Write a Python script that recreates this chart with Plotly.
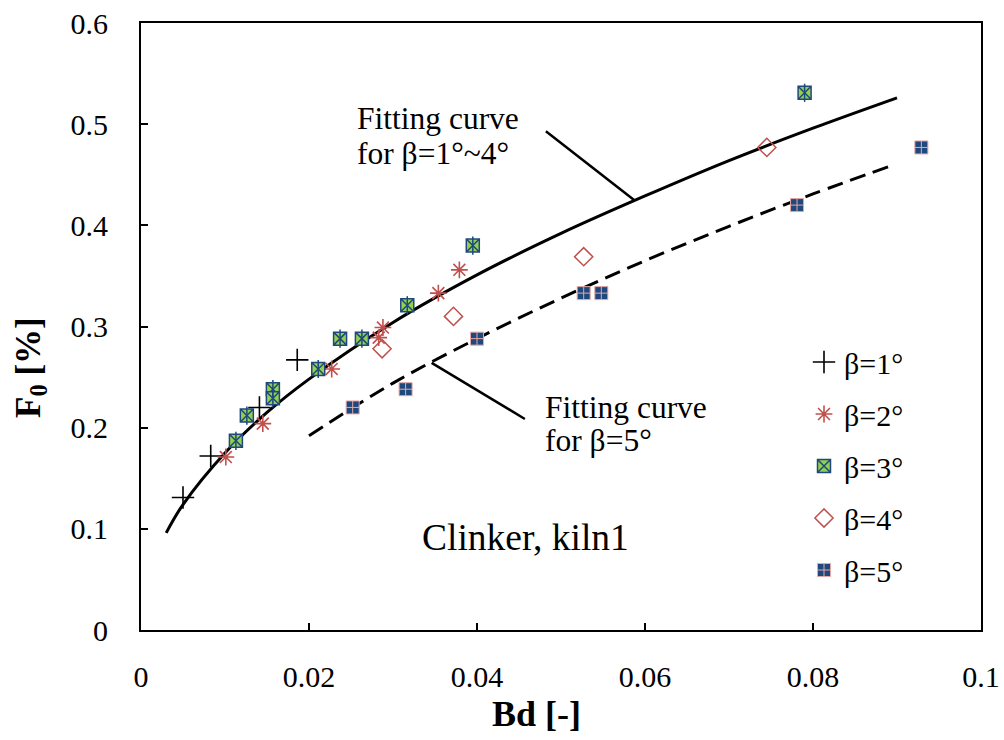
import plotly.graph_objects as go

# ---- data ----
b1_x = [0.0050, 0.0083, 0.0141, 0.0186]
b1_y = [0.131, 0.172, 0.220, 0.267]

b2_x = [0.0101, 0.0145, 0.0227, 0.0283, 0.0288, 0.0354, 0.0379]
b2_y = [0.171, 0.204, 0.258, 0.289, 0.299, 0.333, 0.356]

b3_x = [0.0113, 0.0126, 0.0157, 0.0157, 0.0211, 0.0237, 0.0263, 0.0317, 0.0395, 0.0790]
b3_y = [0.187, 0.212, 0.238, 0.229, 0.258, 0.288, 0.288, 0.321, 0.380, 0.531]

b4_x = [0.0287, 0.0372, 0.0527, 0.0745]
b4_y = [0.278, 0.310, 0.369, 0.477]

b5_x = [0.0252, 0.0315, 0.0400, 0.0527, 0.0548, 0.0781, 0.0929]
b5_y = [0.220, 0.238, 0.288, 0.333, 0.333, 0.420, 0.477]

fit14_x = [0.003, 0.005, 0.010, 0.015, 0.020, 0.030, 0.040, 0.050, 0.060, 0.070, 0.080, 0.090]
fit14_y = [0.096, 0.124, 0.175, 0.215, 0.248, 0.304, 0.351, 0.392, 0.429, 0.464, 0.496, 0.526]

fit5_x = [0.020, 0.030, 0.040, 0.050, 0.060, 0.070, 0.080, 0.089]
fit5_y = [0.192, 0.244, 0.288, 0.328, 0.365, 0.399, 0.431, 0.458]

# pointer lines for the curve labels (data coords)
ptr14 = [0.0482, 0.493, 0.0587, 0.425]
ptr5 = [0.0346, 0.264, 0.0457, 0.2086]

x_ticks = [0, 0.02, 0.04, 0.06, 0.08, 0.1]
x_tick_text = ["0", "0.02", "0.04", "0.06", "0.08", "0.1"]
y_ticks = [0, 0.1, 0.2, 0.3, 0.4, 0.5, 0.6]
y_tick_text = ["0", "0.1", "0.2", "0.3", "0.4", "0.5", "0.6"]

FONT = "Liberation Serif"
RED = "#C0504D"
GREEN = "#92D050"
BLUE = "#1F497D"
PINK = "#E6A8A6"

fig = go.Figure()

fig.add_trace(go.Scatter(x=fit14_x, y=fit14_y, mode="lines", line=dict(color="black", width=3, shape="spline"),
                         showlegend=False, hoverinfo="skip"))
fig.add_trace(go.Scatter(x=fit5_x, y=fit5_y, mode="lines",
                         line=dict(color="black", width=3, shape="spline", dash="16px,8px"),
                         showlegend=False, hoverinfo="skip"))

fig.add_trace(go.Scatter(x=b1_x, y=b1_y, mode="markers", name="β=1°", legendgroup="g1",
                         marker=dict(symbol="cross-thin-open", size=16, color="black",
                                     line=dict(color="black", width=1.6))))
fig.add_trace(go.Scatter(x=b2_x, y=b2_y, mode="markers", name="β=2°", legendgroup="g2",
                         marker=dict(symbol="asterisk-open", size=14, color=RED,
                                     line=dict(color=RED, width=1.6))))
fig.add_trace(go.Scatter(x=b3_x, y=b3_y, mode="markers", name="β=3°", legendgroup="g3",
                         marker=dict(symbol="square-x", size=13, color=GREEN, line=dict(color=BLUE, width=1.5))))
fig.add_trace(go.Scatter(x=b3_x, y=b3_y, mode="markers", name="β=3°", legendgroup="g3", showlegend=False,
                         hoverinfo="skip",
                         marker=dict(symbol="line-ns-open", size=13, color=BLUE, line=dict(color=BLUE, width=1.5))))
fig.add_trace(go.Scatter(x=b4_x, y=b4_y, mode="markers", name="β=4°", legendgroup="g4",
                         marker=dict(symbol="diamond-open", size=14, color=RED, line=dict(color=RED, width=1.5))))
fig.add_trace(go.Scatter(x=b5_x, y=b5_y, mode="markers", name="β=5°", legendgroup="g5",
                         marker=dict(symbol="square-cross", size=13, color=BLUE, line=dict(color=PINK, width=1))))

for p in (ptr14, ptr5):
    fig.add_shape(type="line", xref="x", yref="y", x0=p[0], y0=p[1], x1=p[2], y1=p[3],
                  line=dict(color="black", width=2.5))

# figure fills the window exactly (body margin removed in post_script)
W, H = 1004, 740
L, T, R, B = 141, 23, 1004 - 981, 740 - 630
pw, ph = W - L - R, H - T - B


def px(xs):
    return (xs - L) / pw


def py(ys):
    return (H - B - ys) / ph


ann = [
    dict(text="Fitting curve", x=355, y=118, size=31.5),
    dict(text="for β=1°~4°", x=355, y=153, size=31.5),
    dict(text="Fitting curve", x=543, y=407, size=31.5),
    dict(text="for β=5°", x=543, y=440, size=31.5),
    dict(text="Clinker, kiln1", x=420, y=537, size=37.5),
]
for a in ann:
    fig.add_annotation(text=a["text"], xref="paper", yref="paper",
                       x=px(a["x"]), y=py(a["y"]),
                       xanchor="left", yanchor="middle", showarrow=False,
                       font=dict(family=FONT, size=a["size"], color="black"))

fig.add_annotation(text="<b>Bd [-]</b>", xref="paper", yref="paper", x=px(536), y=py(714),
                   xanchor="center", yanchor="middle", showarrow=False,
                   font=dict(family=FONT, size=36, color="black"))
fig.add_annotation(text="<b>F<sub>0</sub> [%]</b>", xref="paper", yref="paper", x=px(30),
                   y=py(368), xanchor="center", yanchor="middle", textangle=-90, showarrow=False,
                   font=dict(family=FONT, size=35, color="black"))

axis_common = dict(showgrid=False, zeroline=False, showline=True, linecolor="black", linewidth=2,
                   mirror=True, ticks="inside", ticklen=7, tickwidth=2, tickcolor="black",
                   ticklabeloverflow="allow",
                   tickfont=dict(family=FONT, size=30, color="black"))
fig.update_xaxes(range=[0, 0.1], tickvals=x_ticks, ticktext=x_tick_text, ticklabelstandoff=19, **axis_common)
fig.update_yaxes(range=[0, 0.6], tickvals=y_ticks, ticktext=y_tick_text, ticklabelstandoff=25, **axis_common)

fig.update_layout(
    width=W, height=H,
    margin=dict(l=L, r=R, t=T, b=B, autoexpand=False),
    paper_bgcolor="white", plot_bgcolor="white",
    font=dict(family=FONT, size=30, color="black"),
    legend=dict(x=px(804), y=py(336), xanchor="left", yanchor="top",
                traceorder="grouped", tracegroupgap=10, bgcolor="rgba(0,0,0,0)",
                font=dict(family=FONT, size=30, color="black")),
)

fig.write_html("out.html", config={"displayModeBar": False},
               post_script="document.body.style.margin='0';document.body.style.overflow='hidden';")
